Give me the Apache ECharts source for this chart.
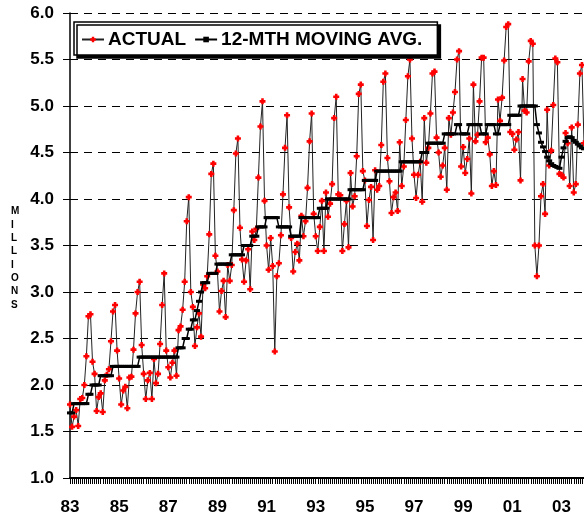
<!DOCTYPE html>
<html>
<head>
<meta charset="utf-8">
<script src="https://cdn.jsdelivr.net/npm/echarts@6/dist/echarts.min.js"></script>
<style>
html,body{margin:0;padding:0;background:#fff;}
#chart{width:584px;height:527px;}
</style>
</head>
<body>
<div id="chart"></div>
<script>
// Years covered (monthly data, Jan 1983 - Dec 2003)
const years = [1983,1984,1985,1986,1987,1988,1989,1990,1991,1992,1993,1994,1995,1996,1997,1998,1999,2000,2001,2002,2003];
const monthNames = ['Jan','Feb','Mar','Apr','May','Jun','Jul','Aug','Sep','Oct','Nov','Dec'];

// ACTUAL monthly values (millions), one row per year
const actual = [
  1.79,1.55,1.66,1.73,1.56,1.85,1.86,2.00,2.31,2.74,2.76,2.25,
  2.12,1.72,1.87,1.91,1.71,2.05,2.11,2.17,2.47,2.79,2.86,2.37,
  2.07,1.79,1.94,1.98,1.75,2.08,2.09,2.38,2.77,3.00,3.11,2.43,
  2.12,1.85,2.05,2.13,1.85,2.28,2.02,2.12,2.44,2.86,3.20,2.37,
  2.19,2.08,2.24,2.37,2.10,2.59,2.63,2.81,3.11,3.76,4.02,3.00,
  2.84,2.42,2.62,2.77,2.52,3.08,3.04,3.17,3.62,4.27,4.38,3.39,
  3.22,2.79,3.01,3.12,2.73,3.29,3.12,3.29,3.88,4.49,4.65,3.69,
  3.35,3.11,3.34,3.46,3.03,3.65,3.56,3.68,4.23,4.78,5.05,3.98,
  3.50,3.24,3.58,3.28,2.36,3.17,3.31,3.61,4.05,4.55,4.90,3.91,
  3.58,3.22,3.43,3.52,3.34,3.82,3.60,3.76,4.12,4.62,4.92,3.84,
  3.60,3.44,3.70,3.98,3.44,4.07,3.81,3.95,4.16,4.87,5.10,4.05,
  4.04,3.44,3.73,3.98,3.48,4.28,3.92,4.03,4.46,5.13,5.23,4.30,
  4.20,3.71,3.99,4.13,3.56,4.31,4.10,4.14,4.58,5.26,5.35,4.44,
  4.19,3.85,4.02,4.07,3.87,4.61,4.14,4.35,4.85,5.32,5.50,4.65,
  4.26,4.01,4.26,4.40,3.97,4.87,4.39,4.55,4.92,5.35,5.37,4.66,
  4.50,4.24,4.36,4.55,4.10,4.87,4.69,4.93,5.15,5.50,5.59,4.35,
  4.56,4.28,4.43,4.65,4.06,5.23,4.62,4.69,5.05,5.52,5.52,4.61,
  4.66,4.48,4.14,4.30,4.15,5.07,4.84,5.09,5.49,5.85,5.88,4.72,
  4.70,4.53,4.64,4.72,4.20,5.29,4.95,4.93,5.48,5.70,5.67,3.50,
  3.17,3.50,4.03,4.16,3.84,4.96,4.36,4.52,5.01,5.51,5.47,4.27,
  4.26,4.23,4.71,4.60,4.14,4.77,4.07,4.16,4.80,5.35,5.44,4.60
];

// 12-month moving average (millions), one row per year
const movingAvg = [
  1.7,1.7,1.8,1.8,1.8,1.8,1.8,1.8,1.8,1.9,1.9,2.0,
  2.0,2.0,2.0,2.1,2.1,2.1,2.1,2.1,2.1,2.2,2.2,2.2,
  2.2,2.2,2.2,2.2,2.2,2.2,2.2,2.2,2.2,2.2,2.3,2.3,
  2.3,2.3,2.3,2.3,2.3,2.3,2.3,2.3,2.3,2.3,2.3,2.3,
  2.3,2.3,2.3,2.3,2.3,2.4,2.4,2.4,2.5,2.5,2.6,2.6,
  2.7,2.7,2.8,2.9,3.0,3.1,3.1,3.1,3.2,3.2,3.2,3.2,
  3.3,3.3,3.3,3.3,3.3,3.3,3.3,3.4,3.4,3.4,3.4,3.4,
  3.4,3.5,3.5,3.5,3.5,3.6,3.6,3.6,3.7,3.7,3.7,3.7,
  3.8,3.8,3.8,3.8,3.8,3.8,3.7,3.7,3.7,3.7,3.7,3.7,
  3.6,3.6,3.6,3.6,3.6,3.8,3.8,3.8,3.8,3.8,3.8,3.8,
  3.8,3.8,3.9,3.9,3.9,3.9,4.0,4.0,4.0,4.0,4.0,4.0,
  4.0,4.0,4.0,4.0,4.0,4.1,4.1,4.1,4.1,4.1,4.1,4.1,
  4.2,4.2,4.2,4.2,4.2,4.2,4.3,4.3,4.3,4.3,4.3,4.3,
  4.3,4.3,4.3,4.3,4.3,4.3,4.4,4.4,4.4,4.4,4.4,4.4,
  4.4,4.4,4.4,4.4,4.5,4.5,4.5,4.6,4.6,4.6,4.6,4.6,
  4.6,4.6,4.6,4.7,4.7,4.7,4.7,4.7,4.7,4.8,4.8,4.7,
  4.7,4.7,4.7,4.8,4.8,4.8,4.8,4.8,4.8,4.7,4.7,4.7,
  4.8,4.8,4.8,4.8,4.7,4.7,4.8,4.8,4.8,4.8,4.8,4.9,
  4.9,4.9,4.9,4.9,5.0,5.0,5.0,5.0,5.0,5.0,5.0,5.0,
  4.8,4.71,4.61,4.56,4.51,4.45,4.41,4.38,4.36,4.35,4.34,4.33,
  4.45,4.55,4.62,4.66,4.67,4.66,4.63,4.61,4.59,4.57,4.55,4.54
];

// x tick labels (one every two years, at January)
const xTickLabels = ['83','85','87','89','91','93','95','97','99','01','03'];
const yAxisName = 'MILLIONS';
const seriesNames = ['ACTUAL','12-MTH MOVING AVG.'];

const categories = [];
years.forEach(y => monthNames.forEach(m => categories.push(m + ' ' + y)));

const FONT = 'Arial, "Liberation Sans", Helvetica, sans-serif';
const plusPath = 'path://M2,0H5V2H7V5H5V7H2V5H0V2H2Z';

const chart = echarts.init(document.getElementById('chart'), null, {renderer:'canvas'});
chart.setOption({
  animation: false,
  backgroundColor: '#fff',
  grid: {left: 70, right: -1, top: 13, bottom: 49, containLabel: false},
  legend: {
    left: 74, top: 22,
    orient: 'horizontal',
    data: seriesNames,
    backgroundColor: '#fff',
    borderColor: '#000',
    borderWidth: 1.5,
    shadowColor: '#000',
    shadowBlur: 0,
    shadowOffsetX: 3,
    shadowOffsetY: 3,
    padding: [8, 15, 6, 7],
    itemGap: 8,
    itemWidth: 22,
    itemHeight: 7,
    textStyle: {fontFamily: FONT, fontWeight: 'bold', fontSize: 19, color: '#000', padding:[0,0,0,-1]}
  },
  graphic: [{
    type: 'text',
    left: 11, top: 205,
    silent: true,
    style: {
      text: yAxisName.split('').join('\n'),
      font: 'bold 10px ' + FONT,
      lineHeight: 13.3,
      fill: '#000',
      align: 'center'
    }
  }],
  xAxis: {
    type: 'category',
    data: categories,
    boundaryGap: false,
    axisLine: {show: true, lineStyle: {color: '#000', width: 2}},
    axisTick: {show: true, interval: 0, length: 6, lineStyle: {color: '#000', width: 1}},
    axisLabel: {
      interval: 23,
      margin: 21,
      fontFamily: FONT, fontWeight: 'bold', fontSize: 17, color: '#000',
      formatter: (v, idx) => xTickLabels[Math.round(idx / 24)]
    },
    splitLine: {show: false}
  },
  yAxis: {
    type: 'value',
    min: 1.0, max: 6.0, interval: 0.5,
    axisLine: {show: true, lineStyle: {color: '#000', width: 1.5}},
    axisTick: {show: true, length: 7, lineStyle: {color: '#000', width: 1}},
    axisLabel: {
      margin: 16,
      fontFamily: FONT, fontWeight: 'bold', fontSize: 17, color: '#000',
      formatter: v => v.toFixed(1)
    },
    splitLine: {show: true, lineStyle: {color: '#000', width: 1, type: [8, 6]}}
  },
  series: [
    {
      name: seriesNames[0],
      type: 'line',
      data: actual,
      showAllSymbol: true,
      symbol: plusPath,
      symbolSize: 6,
      itemStyle: {color: '#ff0000'},
      lineStyle: {color: '#222', width: 1},
      z: 2
    },
    {
      name: seriesNames[1],
      type: 'line',
      data: movingAvg,
      showAllSymbol: true,
      symbol: 'rect',
      symbolSize: [6, 3],
      itemStyle: {color: '#000'},
      lineStyle: {color: '#000', width: 1.5},
      z: 3
    }
  ]
});
</script>
</body>
</html>
